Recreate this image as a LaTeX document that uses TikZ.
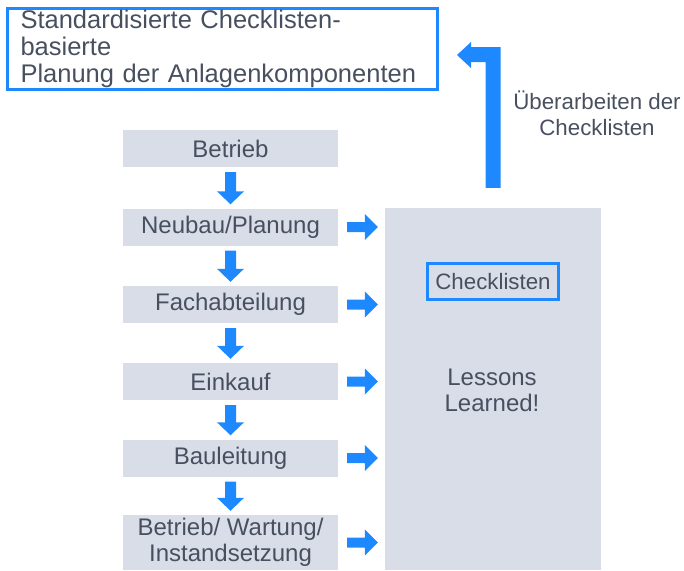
\documentclass[tikz,border=0pt]{standalone}
\usepackage{fontspec}
\setmainfont{Liberation Sans}
\usetikzlibrary{calc}
\definecolor{flowblue}{RGB}{30,136,255}
\definecolor{boxgray}{RGB}{217,221,232}
\definecolor{inkgray}{RGB}{72,80,96}

% block arrow pointing down, between two stacked stages
\newcommand\stepdown[2]{%
  \path ($(#1.south)+(0,5)$) coordinate (ds)
        ($(#2.north)+(0,-4)$) coordinate (de)
        ($(de)+(0,-13)$) coordinate (dh);
  \fill[flowblue] ($(ds)+(-5.5,0)$) -- ($(dh)+(-5.5,0)$) -- ($(dh)+(-13.5,0)$)
    -- (de) -- ($(dh)+(13.5,0)$) -- ($(dh)+(5.5,0)$) -- ($(ds)+(5.5,0)$) -- cycle;}

% block arrow pointing right, from a stage to the lessons panel
\newcommand\stepright[1]{%
  \path ($(#1.east)+(9,0)$) coordinate (rs)
        ($(#1.east -| panel.west)+(-7,0)$) coordinate (re)
        ($(re)+(-13,0)$) coordinate (rh);
  \fill[flowblue] ($(rs)+(0,-5)$) -- ($(rh)+(0,-5)$) -- ($(rh)+(0,-13)$)
    -- (re) -- ($(rh)+(0,13)$) -- ($(rh)+(0,5)$) -- ($(rs)+(0,5)$) -- cycle;}

\begin{document}
\begin{tikzpicture}[x=1pt,y=-1pt,
  stage/.style={fill=boxgray, minimum width=215pt, minimum height=37pt,
    inner sep=0pt, text=inkgray, align=center,
    font=\fontsize{24}{26}\selectfont},
  plain/.style={text=inkgray, align=center, inner sep=0pt,
    font=\fontsize{22.3}{26}\selectfont}]
\useasboundingbox (0,0) rectangle (684,570);

% planning box at the top
\node[draw=flowblue, line width=3pt, minimum width=430pt, minimum height=81pt,
  text width=404pt, align=left, inner xsep=12pt, inner ysep=0pt, text=inkgray,
  font=\fontsize{25.5}{27}\selectfont] (topbox) at (222.5,48.5)
  {Standardisierte Checklisten-\\basierte\\Planung der Anlagenkomponenten};

% lessons-learned panel
\node[fill=boxgray, minimum width=216pt, minimum height=362pt, inner sep=0pt]
  (panel) at (493,389) {};
\node[draw=flowblue, line width=3pt, fill=boxgray, minimum width=131pt,
  minimum height=36pt, inner sep=0pt, text=inkgray,
  font=\fontsize{22.3}{26}\selectfont] (check) at (493,281.5) {Checklisten};
\node[plain, font=\fontsize{24}{26}\selectfont] (lessons) at (492,390)
  {Lessons\\Learned!};

% process stages
\node[stage] (s1) at (230.5,148.5) {Betrieb};
\node[stage] (s2) at (230.5,227) {Neubau/Planung};
\node[stage] (s3) at (230.5,304.5) {Fachabteilung};
\node[stage] (s4) at (230.5,381.5) {Einkauf};
\node[stage] (s5) at (230.5,458) {Bauleitung};
\node[stage, minimum height=55pt] (s6) at (230.5,542.5)
  {Betrieb/ Wartung/\\Instandsetzung};

\stepdown{s1}{s2}
\stepdown{s2}{s3}
\stepdown{s3}{s4}
\stepdown{s4}{s5}
\stepdown{s5}{s6}

\stepright{s2}
\stepright{s3}
\stepright{s4}
\stepright{s5}
\stepright{s6}

% feedback arrow back to the planning box
\path ($(panel.north)+(0,-20)$) coordinate (rb)
      ($(topbox.east)+(18,6.5)$) coordinate (rt);
\fill[flowblue] ($(rb)+(-7.5,0)$) -- ($(rb)+(7.5,0)$) -- ($(rb |- rt)+(7.5,-8)$)
  -- ($(rt)+(14,-8)$) -- ($(rt)+(14,-13)$) -- (rt) -- ($(rt)+(14,13)$)
  -- ($(rt)+(14,7)$) -- ($(rb |- rt)+(-7.5,7)$) -- cycle;
\node[plain] (relabel) at (597,113) {Überarbeiten der\\Checklisten};
\end{tikzpicture}
\end{document}
